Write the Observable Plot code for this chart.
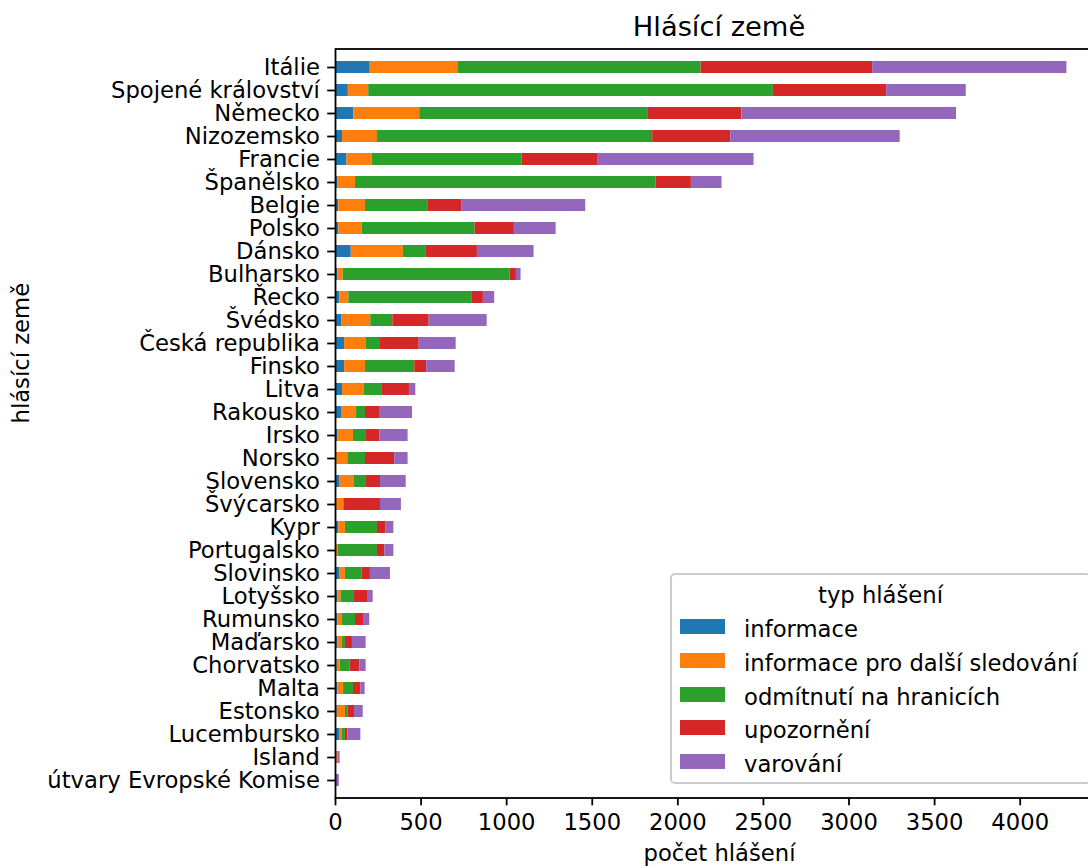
<!DOCTYPE html>
<html>
<head>
<meta charset="utf-8">
<script src="https://cdn.jsdelivr.net/npm/d3@7"></script>
<script src="https://cdn.jsdelivr.net/npm/@observablehq/plot@0.6"></script>
<style>
  html, body { margin: 0; padding: 0; background: #fff; overflow: hidden; }
  #wrap { position: relative; width: 1088px; height: 866px; overflow: hidden; font-family: "DejaVu Sans", sans-serif; color: #000; }
  #wrap svg text { font-family: "DejaVu Sans", sans-serif; font-size: 22.7px; }
  #wrap svg [aria-label*="axis"] line, #wrap svg [aria-label*="axis"] path { stroke-width: 1.8px; }
  #title { position: absolute; top: 13px; left: 719px; transform: translateX(-50%); font-size: 27.3px; line-height: 27.3px; white-space: nowrap; }
  #legend { position: absolute; left: 670px; top: 573px; width: 421px; height: 211px; border: 2px solid #cccccc; border-radius: 5px; background: rgba(255,255,255,0.8); box-sizing: border-box; }
  #legend .lt { position: absolute; left: 0; width: 417px; top: 9px; text-align: center; font-size: 22.7px; line-height: 22.7px; white-space: nowrap; }
  #legend .sw { position: absolute; left: 8px; width: 45px; height: 15px; }
  #legend .tx { position: absolute; left: 72px; font-size: 22.7px; line-height: 22.7px; white-space: nowrap; }
</style>
</head>
<body>
<div id="wrap"></div>
<script>
// ---- data ----
const countries = ["Itálie","Spojené království","Německo","Nizozemsko","Francie","Španělsko","Belgie","Polsko","Dánsko","Bulharsko","Řecko","Švédsko","Česká republika","Finsko","Litva","Rakousko","Irsko","Norsko","Slovensko","Švýcarsko","Kypr","Portugalsko","Slovinsko","Lotyšsko","Rumunsko","Maďarsko","Chorvatsko","Malta","Estonsko","Lucembursko","Island","útvary Evropské Komise"];
const types = ["informace","informace pro další sledování","odmítnutí na hranicích","upozornění","varování"];
const colors = ["#1f77b4","#ff7f0e","#2ca02c","#d62728","#9467bd"];
const informace = [203,75,107,41,67,14,19,19,92,14,25,35,53,53,41,35,14,6,27,6,19,6,27,14,14,14,10,14,10,27,1,0];
const informaceSledovani = [512,119,385,204,147,103,156,137,305,31,53,171,128,122,128,88,91,66,84,41,39,10,31,19,27,25,17,33,48,14,14,0];
const odmitnuti = [1421,2364,1336,1608,875,1756,364,660,134,975,718,129,82,288,101,52,76,103,70,4,187,229,96,78,76,19,59,58,14,17,0,0];
const upozorneni = [1002,662,546,456,442,206,201,229,298,37,68,212,226,70,162,82,78,171,82,212,51,43,50,76,51,41,56,43,39,14,2,0];
const varovani = [1135,465,1254,990,914,179,722,244,331,27,66,339,216,166,37,193,165,78,150,122,45,53,117,33,32,80,37,25,51,76,10,22];
const xTicks = [0,500,1000,1500,2000,2500,3000,3500,4000];
const titleText = "Hlásící země";
const xLabel = "počet hlášení";
const yLabel = "hlásící země";
const legendTitle = "typ hlášení";

// ---- build long table ----
const series = [informace, informaceSledovani, odmitnuti, upozorneni, varovani];
const rows = [];
countries.forEach((c, i) => {
  types.forEach((t, j) => rows.push({country: c, type: t, value: series[j][i]}));
});
const totals = countries.map((c, i) => series.reduce((s, arr) => s + arr[i], 0));
const xMax = d3.max(totals) * 1.05;

const chart = Plot.plot({
  width: 1088,
  height: 866,
  marginTop: 48.5,
  marginBottom: 68.5,
  marginLeft: 335,
  marginRight: -15,
  style: {background: "white", color: "black", fontFamily: "DejaVu Sans", fontSize: "22.7px", overflow: "hidden"},
  x: {domain: [0, xMax], ticks: xTicks, tickFormat: d => String(d), tickSize: 7.8, tickPadding: 7.8, label: null},
  y: {domain: countries, paddingInner: 0.5, paddingOuter: 0.3, tickSize: 7.8, tickPadding: 7.8, label: null},
  color: {domain: types, range: colors},
  marks: [
    Plot.barX(rows, {x: "value", y: "country", fill: "type", order: types}),
    Plot.frame({stroke: "black", strokeWidth: 1.8}),
    Plot.text([yLabel], {text: d => d, frameAnchor: "left", dx: -314, rotate: -90, fill: "black"}),
    Plot.text([xLabel], {text: d => d, frameAnchor: "bottom", dy: 55.5, lineAnchor: "middle", fill: "black"})
  ]
});

const wrap = document.getElementById("wrap");
wrap.appendChild(chart);

const title = document.createElement("div");
title.id = "title";
title.textContent = titleText;
wrap.appendChild(title);

const legend = document.createElement("div");
legend.id = "legend";
const lt = document.createElement("div");
lt.className = "lt";
lt.textContent = legendTitle;
legend.appendChild(lt);
types.forEach((t, i) => {
  const sw = document.createElement("div");
  sw.className = "sw";
  sw.style.top = (44 + 33.8 * i) + "px";
  sw.style.background = colors[i];
  legend.appendChild(sw);
  const tx = document.createElement("div");
  tx.className = "tx";
  tx.style.top = (43 + 33.8 * i) + "px";
  tx.textContent = t;
  legend.appendChild(tx);
});
wrap.appendChild(legend);
</script>
</body>
</html>
